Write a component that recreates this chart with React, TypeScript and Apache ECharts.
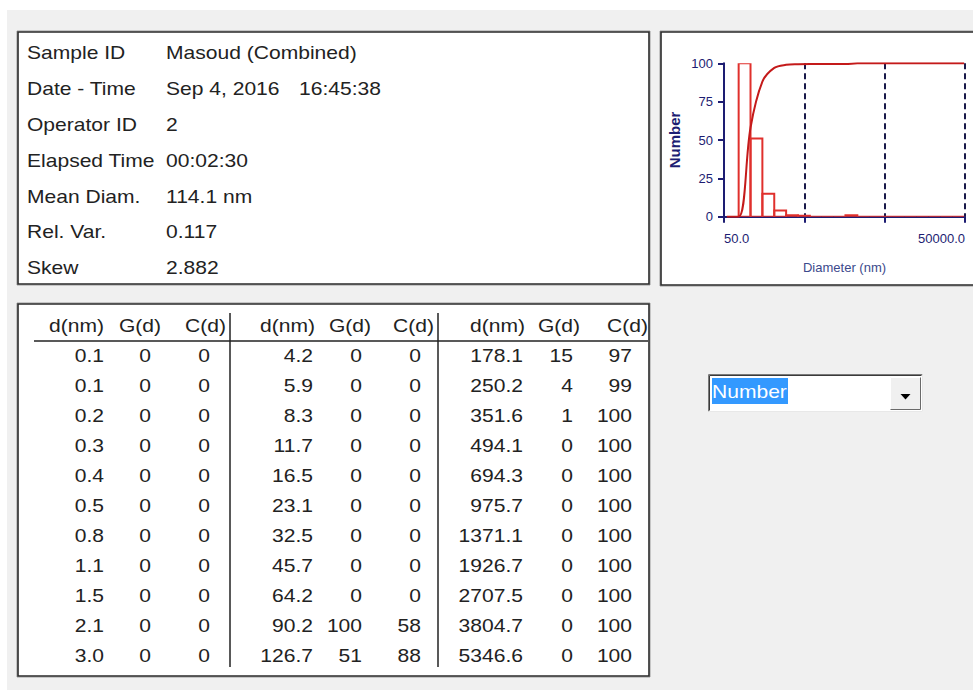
import React, { useEffect, useRef } from "react";
import * as echarts from "echarts";

const FONT = '"Liberation Sans", Arial, sans-serif';

// ---- info panel ----
const infoLabels = ["Sample ID", "Date - Time", "Operator ID", "Elapsed Time", "Mean Diam.", "Rel. Var.", "Skew"];
const infoValues = ["Masoud (Combined)", "Sep 4, 2016", "2", "00:02:30", "114.1 nm", "0.117", "2.882"];
const infoTime = "16:45:38";

// ---- table ----
const tableHeaders = ["d(nm)", "G(d)", "C(d)"];
const tableDiam = [
  0.1, 0.1, 0.2, 0.3, 0.4, 0.5, 0.8, 1.1, 1.5, 2.1, 3.0,
  4.2, 5.9, 8.3, 11.7, 16.5, 23.1, 32.5, 45.7, 64.2, 90.2, 126.7,
  178.1, 250.2, 351.6, 494.1, 694.3, 975.7, 1371.1, 1926.7, 2707.5, 3804.7, 5346.6,
];
const tableG = [
  0, 0, 0, 0, 0, 0, 0, 0, 0, 0, 0,
  0, 0, 0, 0, 0, 0, 0, 0, 0, 100, 51,
  15, 4, 1, 0, 0, 0, 0, 0, 0, 0, 0,
];
const tableC = [
  0, 0, 0, 0, 0, 0, 0, 0, 0, 0, 0,
  0, 0, 0, 0, 0, 0, 0, 0, 0, 58, 88,
  97, 99, 100, 100, 100, 100, 100, 100, 100, 100, 100,
];

// ---- mini chart (histogram bins) ----
const binDiam = [45.7, 64.2, 90.2, 126.7, 178.1, 250.2, 351.6, 494.1, 694.3, 975.7, 1371.1, 1926.7, 2707.5, 3804.7, 5346.6, 7513.5, 10558.4, 14837.2, 20850.1, 29299.8, 41173.9, 57860.0];
const binG = [0, 0, 100, 51, 15, 4, 1, 0.6, 0, 0, 0, 1, 0, 0, 0, 0, 0, 0, 0, 0, 0, 0];
const binC = [0, 0, 58, 88, 97, 99, 99.4, 99.5, 99.5, 99.5, 99.5, 100, 100, 100, 100, 100, 100, 100, 100, 100, 100, 100];
const xMinDiam = 50;
const yTicks = [0, 25, 50, 75, 100];
const selectorText = "Number";

const NAVY = "#1d1d72";
const TXT = "#222";

function buildOption() {
  const u = (d: number) => Math.log10(d / xMinDiam);
  const edge = (i: number) => Math.sqrt(binDiam[i] * binDiam[i + 1]);
  const bars: number[][] = [];
  for (let i = 2; i < binDiam.length - 1; i++) {
    bars.push([u(edge(i - 1)), u(edge(i)), binG[i]]);
  }
  const cum: number[][] = [];
  for (let i = 0; i < binDiam.length - 1; i++) cum.push([u(edge(i)), binC[i]]);

  const g: any[] = [];
  const txt = (text: string, x: number, y: number, align = "left", extra: any = {}) => ({
    type: "text",
    x,
    y,
    scaleX: 1.17,
    z: 2,
    style: { text, fill: TXT, font: `18px ${FONT}`, textAlign: align, textVerticalAlign: "middle", ...extra },
  });
  // page background
  g.push({ type: "rect", z: 0, shape: { x: 7, y: 10, width: 966, height: 680 }, style: { fill: "#f0f0f0" } });
  // boxes
  const box = (x: number, y: number, w: number, h: number) => {
    g.push({ type: "rect", z: 1, shape: { x, y, width: w, height: h }, style: { fill: "#fff", stroke: "#9a9a9a", lineWidth: 1 } });
    g.push({ type: "rect", z: 1, shape: { x: x + 1, y: y + 1, width: w - 2, height: h - 2 }, style: { fill: "#fff", stroke: "#2a2a2a", lineWidth: 1.6 } });
  };
  box(17, 31, 633, 254);
  box(660, 31, 330, 255);
  box(17, 303, 633, 374);

  // info text
  infoLabels.forEach((l, i) => {
    const y = 53 + i * 35.8;
    g.push(txt(l, 27, y));
    g.push(txt(infoValues[i], 166, y));
  });
  g.push(txt(infoTime, 299, 53 + 35.8));

  // table
  const headRight = [[104, 161, 226], [315, 371, 434], [525, 580, 648]];
  const colRight = [[104, 151, 210], [313, 362, 421], [523, 573, 632]];
  for (let b = 0; b < 3; b++) {
    tableHeaders.forEach((h, k) => g.push(txt(h, headRight[b][k], 326, "right")));
    for (let r = 0; r < 11; r++) {
      const idx = b * 11 + r;
      const y = 356 + r * 30;
      g.push(txt(tableDiam[idx].toFixed(1), colRight[b][0], y, "right"));
      g.push(txt(String(tableG[idx]), colRight[b][1], y, "right"));
      g.push(txt(String(tableC[idx]), colRight[b][2], y, "right"));
    }
  }
  g.push({ type: "line", z: 2, shape: { x1: 34, y1: 341, x2: 648, y2: 341 }, style: { stroke: "#222", lineWidth: 1.5 } });
  [230, 438].forEach((x) =>
    g.push({ type: "line", z: 2, shape: { x1: x, y1: 313, x2: x, y2: 667 }, style: { stroke: "#222", lineWidth: 1.5 } })
  );

  // dropdown
  g.push({ type: "rect", z: 1, shape: { x: 708, y: 374, width: 215, height: 38 }, style: { fill: "#fff" } });
  g.push({ type: "polyline", z: 2, shape: { points: [[708.5, 411.5], [708.5, 374.5], [922.5, 374.5]] }, style: { stroke: "#7a7a7a", lineWidth: 1, fill: null } });
  g.push({ type: "polyline", z: 2, shape: { points: [[709.5, 410.5], [709.5, 375.5], [921.5, 375.5]] }, style: { stroke: "#3a3a3a", lineWidth: 1, fill: null } });
  g.push({ type: "polyline", z: 2, shape: { points: [[708.5, 411.5], [922.5, 411.5], [922.5, 374.5]] }, style: { stroke: "#e8e8e8", lineWidth: 1, fill: null } });
  g.push({ type: "rect", z: 2, shape: { x: 712, y: 378, width: 76, height: 26 }, style: { fill: "#3399ff" } });
  g.push(txt(selectorText, 712, 392, "left", { fill: "#fff" }));
  g.push({ type: "rect", z: 2, shape: { x: 890, y: 377, width: 31, height: 33 }, style: { fill: "#f0f0f0" } });
  g.push({ type: "polyline", z: 3, shape: { points: [[890.5, 409.5], [890.5, 377.5], [920.5, 377.5]] }, style: { stroke: "#ffffff", lineWidth: 1, fill: null } });
  g.push({ type: "polyline", z: 3, shape: { points: [[890.5, 409.5], [920.5, 409.5], [920.5, 377.5]] }, style: { stroke: "#6a6a6a", lineWidth: 1, fill: null } });
  g.push({ type: "polygon", z: 3, shape: { points: [[900.5, 394], [910.5, 394], [905.5, 399.5]] }, style: { fill: "#000" } });

  return {
    animation: false,
    backgroundColor: "#fff",
    graphic: { elements: g },
    grid: { left: 724, top: 63.3, right: 8, bottom: 473.3, z: 5 },
    xAxis: {
      type: "value",
      min: 0,
      max: 3,
      interval: 1,
      z: 5,
      name: "Diameter (nm)",
      nameLocation: "middle",
      nameGap: 44,
      nameTextStyle: { color: "#3c4a8c", fontSize: 13, fontFamily: FONT },
      axisLine: { show: true, onZero: false, lineStyle: { color: NAVY, width: 2 } },
      axisTick: { show: true, length: 6, lineStyle: { color: NAVY, width: 2 } },
      axisLabel: {
        color: NAVY,
        fontSize: 13,
        fontFamily: FONT,
        margin: 15,
        alignMinLabel: "left",
        alignMaxLabel: "right",
        showMinLabel: true,
        showMaxLabel: true,
        formatter: (v: number) => (v === 0 || v === 3 ? (xMinDiam * Math.pow(10, v)).toFixed(1) : ""),
      },
      splitLine: { show: true, lineStyle: { color: "#1a1a4a", width: 2, type: [6, 4] } },
    },
    yAxis: {
      type: "value",
      min: yTicks[0],
      max: yTicks[yTicks.length - 1],
      interval: 25,
      z: 5,
      name: "Number",
      nameLocation: "middle",
      nameGap: 42,
      nameRotate: 90,
      nameTextStyle: { color: NAVY, fontSize: 15, fontWeight: "bold", fontFamily: FONT },
      axisLine: { show: true, lineStyle: { color: NAVY, width: 2 } },
      axisTick: { show: true, length: 6, lineStyle: { color: NAVY, width: 2 } },
      axisLabel: { color: NAVY, fontSize: 13, fontFamily: FONT, margin: 11 },
      splitLine: { show: false },
    },
    series: [
      {
        type: "custom",
        z: 6,
        clip: true,
        data: bars,
        renderItem: (params: any, api: any) => {
          const p0 = api.coord([api.value(0), api.value(2)]);
          const p1 = api.coord([api.value(1), 0]);
          return {
            type: "rect",
            shape: { x: p0[0], y: p0[1], width: p1[0] - p0[0], height: p1[1] - p0[1] },
            style: { fill: "none", stroke: "#e0302c", lineWidth: 2 },
          };
        },
      },
      {
        type: "line",
        z: 7,
        data: cum,
        showSymbol: false,
        smooth: 0.35,
        clip: true,
        lineStyle: { color: "#c41a1a", width: 2 },
      },
    ],
  };
}

export default function App() {
  const ref = useRef<HTMLDivElement>(null);
  useEffect(() => {
    if (!ref.current) return;
    const chart = echarts.init(ref.current, null, { renderer: "svg" });
    chart.setOption(buildOption() as any);
    return () => chart.dispose();
  }, []);
  return (
    <div
      ref={ref}
      style={{ position: "absolute", left: 0, top: 0, width: 973, height: 690, overflow: "hidden" }}
    />
  );
}
